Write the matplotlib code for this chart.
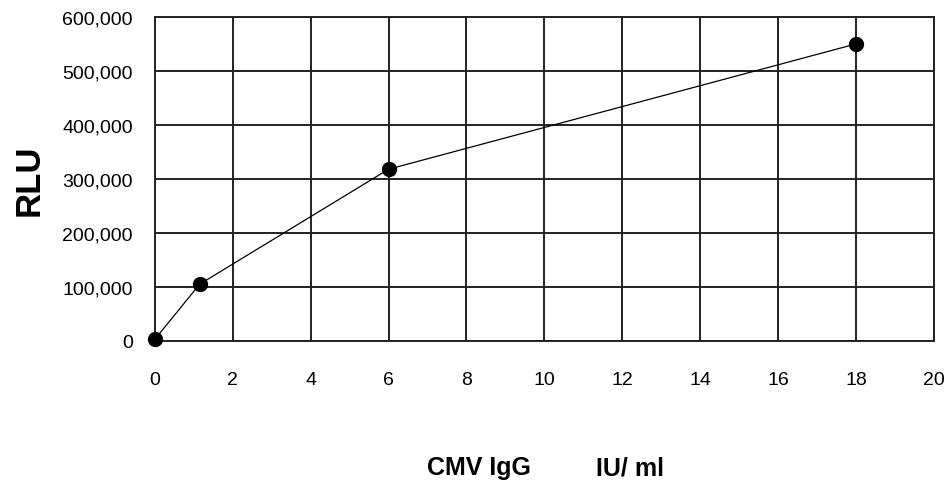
import matplotlib
matplotlib.use("Agg")
import matplotlib.pyplot as plt
from matplotlib.ticker import FuncFormatter

# data
conc = [0, 1.15, 6, 18]
rlu = [3000, 105000, 318000, 550000]
x_ticks = [0, 2, 4, 6, 8, 10, 12, 14, 16, 18, 20]
y_ticks = [0, 100000, 200000, 300000, 400000, 500000, 600000]

plt.rcParams['font.family'] = ['Liberation Sans', 'DejaVu Sans']

fig = plt.figure(figsize=(9.5, 4.85), dpi=100)
ax = fig.add_axes([0.163, 0.295, 0.820, 0.668])

ax.plot(conc, rlu, color='black', lw=0.9, marker='o', markersize=10,
        markerfacecolor='black', markeredgecolor='black', clip_on=False, zorder=3)

ax.set_xlim(0, 20)
ax.set_ylim(0, 600000)
ax.set_xticks(x_ticks)
ax.set_yticks(y_ticks)
ax.yaxis.set_major_formatter(FuncFormatter(lambda v, p: f"{int(v):,}"))
ax.grid(True, color='#222222', lw=1.4)
ax.set_axisbelow(True)
for s in ax.spines.values():
    s.set_color('#222222')
    s.set_linewidth(1.4)
ax.tick_params(length=0, labelsize=14)
ax.tick_params(axis='x', pad=22)
ax.tick_params(axis='y', pad=16)

ax.set_ylabel("RLU", fontsize=25, fontweight='bold', labelpad=12)
fig.text(0.504, 0.02, "CMV IgG", fontsize=18, fontweight='bold', ha='center')
fig.text(0.663, 0.02, "IU/ ml", fontsize=18, fontweight='bold', ha='center')

fig.savefig("out.png", dpi=100)
